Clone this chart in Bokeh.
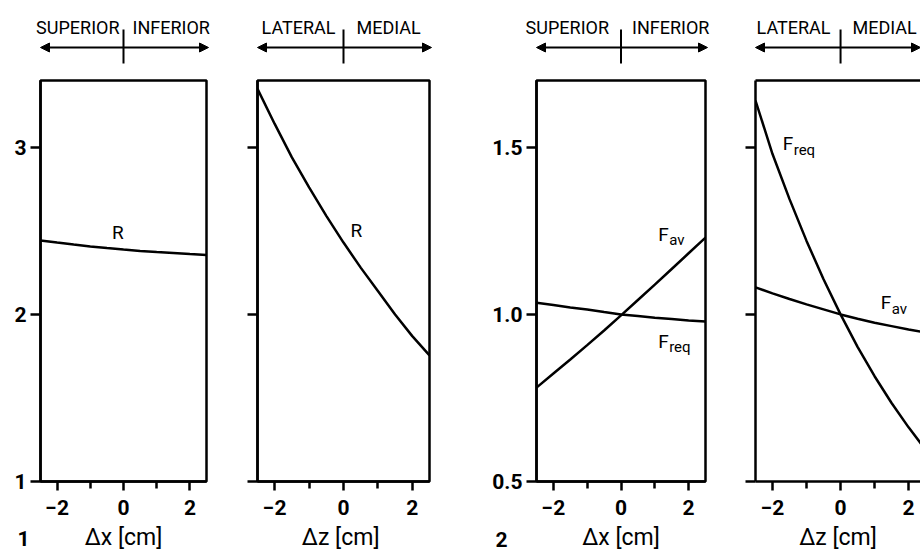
from bokeh.plotting import figure
from bokeh.models import (Range1d, FixedTicker, Label, Arrow, NormalHead, LinearAxis, GridBox,
                          Column, PrintfTickFormatter)
from bokeh.embed import file_html
from bokeh.resources import INLINE

# ---------------- data ----------------
dx = [-2.5, -2.0, -1.5, -1.0, -0.5, 0.0, 0.5, 1.0, 1.5, 2.0, 2.5]
dz = [-2.5, -2.0, -1.5, -1.0, -0.5, 0.0, 0.5, 1.0, 1.5, 2.0, 2.5]

# Fig. 1: ratio R
R_dx = [2.443, 2.43, 2.418, 2.407, 2.397, 2.388, 2.38, 2.373, 2.367, 2.361, 2.356]
R_dz = [3.35, 3.14, 2.94, 2.76, 2.59, 2.43, 2.28, 2.14, 2.00, 1.87, 1.755]

# Fig. 2: forces F_av and F_req
Fav_dx = [0.781, 0.823, 0.865, 0.908, 0.952, 0.997, 1.043, 1.089, 1.136, 1.183, 1.23]
Freq_dx = [1.035, 1.028, 1.021, 1.015, 1.007, 1.0, 0.995, 0.99, 0.986, 0.982, 0.979]
Fav_dz = [1.081, 1.063, 1.046, 1.03, 1.015, 1.0, 0.987, 0.975, 0.965, 0.955, 0.946]
Freq_dz = [1.64, 1.48, 1.345, 1.22, 1.105, 1.0, 0.903, 0.815, 0.735, 0.662, 0.595]

yticks_R = [1, 2, 3]
yticks_F = [0.5, 1.0, 1.5]
xticks_major = [-2, 0, 2]
xticks_minor = [-1, 1]

header_words = [("SUPERIOR", "INFERIOR"), ("LATERAL", "MEDIAL"),
                ("SUPERIOR", "INFERIOR"), ("LATERAL", "MEDIAL")]
x_labels = ["Δx [cm]", "Δz  [cm]", "Δx [cm]", "Δz [cm]"]
fig_numbers = ["1", "2"]

FONT = "Roboto"
W, H = 920, 553
TOP, BOTTOM = 80, 71          # frame top border / bottom border
LW = 2.5
# per panel: left border, frame width, right border, x range
GEOM = [
    dict(bl=40, fw=166, br=10, xs=-2.5, xe=2.5),
    dict(bl=41, fw=172, br=10, xs=-2.5, xe=2.5),
    dict(bl=97, fw=169, br=10, xs=-2.5, xe=2.5),
    dict(bl=40, fw=165, br=0, xs=-2.5, xe=2.35),
]


def make_main(g, yr, yticks, show_ylabels, xlabel, yfmt=None, outline=True):
    p = figure(width=g["bl"] + g["fw"] + g["br"], height=H,
               x_range=Range1d(g["xs"], g["xe"]), y_range=yr,
               output_backend="svg", toolbar_location=None,
               min_border_left=g["bl"], min_border_right=g["br"],
               min_border_top=TOP, min_border_bottom=BOTTOM)
    p.grid.visible = False
    p.background_fill_color = None
    p.border_fill_color = None

    xa = p.below[0]
    xa.ticker = FixedTicker(ticks=xticks_major, minor_ticks=xticks_minor)
    xa.axis_line_width = LW
    xa.major_tick_line_width = LW
    xa.minor_tick_line_width = LW
    xa.major_tick_in = 0
    xa.major_tick_out = 9
    xa.minor_tick_in = 0
    xa.minor_tick_out = 7
    xa.major_label_standoff = 9
    xa.major_label_text_font = FONT
    xa.major_label_text_font_size = "21px"
    xa.major_label_text_font_style = "bold"
    xa.major_label_text_color = "black"
    xa.axis_label = xlabel
    xa.axis_label_standoff = 6
    xa.axis_label_text_font = FONT
    xa.axis_label_text_font_size = "23px"
    xa.axis_label_text_font_style = "normal"
    xa.axis_label_text_color = "black"

    ya = p.left[0]
    ya.ticker = FixedTicker(ticks=yticks, minor_ticks=[])
    if yfmt:
        ya.formatter = PrintfTickFormatter(format=yfmt)
    ya.axis_line_width = LW
    ya.major_tick_line_width = LW
    ya.major_tick_in = 0
    ya.major_tick_out = 10
    ya.major_label_standoff = 4
    ya.major_label_text_font = FONT
    ya.major_label_text_font_size = "21px"
    ya.major_label_text_font_style = "bold"
    ya.major_label_text_color = "black" if show_ylabels else None

    if outline:
        p.outline_line_color = "black"
        p.outline_line_width = LW
    else:
        p.outline_line_color = None
        top = LinearAxis(ticker=FixedTicker(ticks=[], minor_ticks=[]), axis_line_width=LW,
                         axis_line_color="black", major_label_text_color=None,
                         major_tick_line_color=None, minor_tick_line_color=None)
        p.add_layout(top, "above")
    return p


def curve_label(p, x, y, main, sub=None):
    p.add_layout(Label(x=x, y=y, text=main, text_align="left", text_baseline="middle",
                       text_font=FONT, text_font_size="19px", text_color="black"))
    if sub:
        p.add_layout(Label(x=x, y=y, x_offset=11, y_offset=-6, text=sub, text_align="left",
                           text_baseline="middle", text_font=FONT, text_font_size="15px",
                           text_color="black"))


# ---------------- panels ----------------
f1 = make_main(GEOM[0], Range1d(1, 3.4), yticks_R, True, x_labels[0])
f1.line(dx, R_dx, line_width=LW, line_color="black")
curve_label(f1, -0.35, 2.49, "R")

f2 = make_main(GEOM[1], Range1d(1, 3.4), yticks_R, False, x_labels[1])
f2.line(dz, R_dz, line_width=LW, line_color="black")
curve_label(f2, 0.2, 2.50, "R")

f3 = make_main(GEOM[2], Range1d(0.5, 1.7), yticks_F, True, x_labels[2], yfmt="%.1f")
f3.line(dx, Fav_dx, line_width=LW, line_color="black")
f3.line(dx, Freq_dx, line_width=LW, line_color="black")
curve_label(f3, 1.1, 1.24, "F", "av")
curve_label(f3, 1.1, 0.92, "F", "req")

f4 = make_main(GEOM[3], Range1d(0.5, 1.7), yticks_F, False, x_labels[3], outline=False)
f4.line(dz, Fav_dz, line_width=LW, line_color="black")
f4.line(dz, Freq_dz, line_width=LW, line_color="black")
curve_label(f4, -1.7, 1.51, "F", "req")
curve_label(f4, 1.18, 1.035, "F", "av")

# ---------------- transparent overlay for headers and figure numbers ----------------
ov = figure(width=W, height=H, x_range=Range1d(0, W), y_range=Range1d(H, 0),
            output_backend="svg", toolbar_location=None,
            x_axis_location=None, y_axis_location=None,
            min_border_left=0, min_border_right=0, min_border_top=0, min_border_bottom=0)
ov.grid.visible = False
ov.outline_line_color = None
ov.background_fill_color = None
ov.border_fill_color = None

gaps_left = [4, 8, 12, 10]
gaps_right = [9, 13, 11, 12]
x0 = 0
for i, g in enumerate(GEOM):
    fl = x0 + g["bl"]
    fr = fl + g["fw"]
    zero = fl + (0 - g["xs"]) / (g["xe"] - g["xs"]) * g["fw"]
    a_end = min(fr + 2, W)
    ov.add_layout(Arrow(x_start=fl, y_start=47, x_end=a_end, y_end=47,
                        start=NormalHead(size=9, fill_color="black", line_color="black"),
                        end=NormalHead(size=9, fill_color="black", line_color="black"),
                        line_width=2, line_color="black"))
    ov.add_layout(Arrow(x_start=zero, y_start=29, x_end=zero, y_end=63, start=None, end=None,
                        line_width=2, line_color="black"))
    lw, rw = header_words[i]
    ov.add_layout(Label(x=zero - gaps_left[i], y=27, text=lw, text_align="right",
                        text_baseline="alphabetic", text_font=FONT, text_font_size="18px",
                        text_color="black"))
    ov.add_layout(Label(x=zero + gaps_right[i], y=27, text=rw, text_align="left",
                        text_baseline="alphabetic", text_font=FONT, text_font_size="18px",
                        text_color="black"))
    x0 += g["bl"] + g["fw"] + g["br"]

for txt, (nx, ny) in zip(fig_numbers, [(17, 538), (495, 539)]):
    ov.add_layout(Label(x=nx, y=ny, text=txt, text_align="left", text_baseline="alphabetic",
                        text_font=FONT, text_font_size="21px", text_font_style="bold",
                        text_color="black"))

grid = GridBox(children=[(f1, 0, 0), (f2, 0, 1), (f3, 0, 2), (f4, 0, 3),
                         (Column(children=[ov]), 0, 0, 1, 4)])

open("out.html", "w").write(file_html(grid, INLINE))
